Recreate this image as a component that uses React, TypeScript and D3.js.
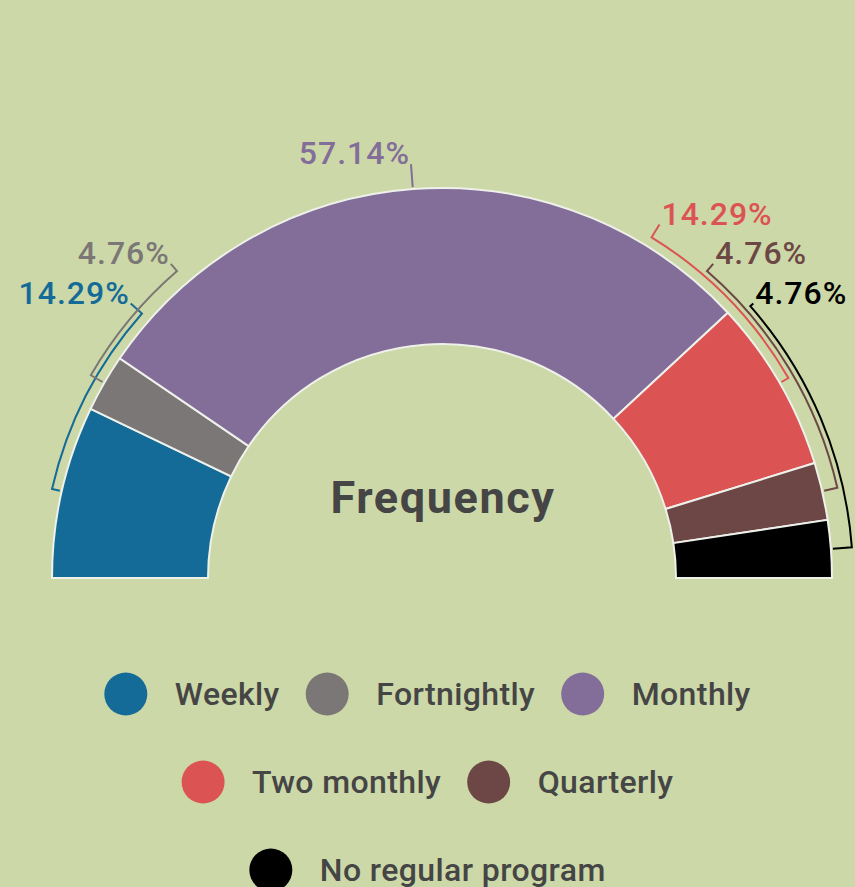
import React, { useEffect, useRef } from "react";
import * as d3 from "d3";

const categories = ["Weekly", "Fortnightly", "Monthly", "Two monthly", "Quarterly", "No regular program"];
const counts = [3, 1, 12, 3, 1, 1];
const sliceColors = ["#156b98", "#7b7776", "#836d99", "#dc5354", "#6c4746", "#000000"];
const labelColors = ["#156b98", "#7b7776", "#836d99", "#dc5354", "#6c4746", "#000000"];
// label positions (degrees, clockwise from top) as laid out in the reference; null = slice middle
const labelAngles: (number | null)[] = [-48.6, -40.8, null, 31.6, 40.8, 48.6];
const legendRows = [[0, 1, 2], [3, 4], [5]];
const title = "Frequency";

const W = 855;
const H = 887;
const BG = "#ccd8a7";

export default function App() {
  const ref = useRef<SVGSVGElement | null>(null);

  useEffect(() => {
    const svg = d3.select(ref.current);
    svg.selectAll("*").remove();
    svg.append("rect").attr("width", W).attr("height", H).attr("fill", BG);

    const cx = 442, cy = 578, r0 = 234, r1 = 390;
    const total = d3.sum(counts);
    const pie = d3.pie<number>().sort(null).startAngle(-Math.PI / 2).endAngle(Math.PI / 2).value((d) => d);
    const arcs = pie(counts);
    const arc = d3.arc<d3.PieArcDatum<number>>().innerRadius(r0).outerRadius(r1);

    const g = svg.append("g").attr("transform", `translate(${cx},${cy})`);
    g.selectAll("path.slice")
      .data(arcs)
      .join("path")
      .attr("class", "slice")
      .attr("d", arc as any)
      .attr("fill", (_, i) => sliceColors[i])
      .attr("stroke", "#eef0ea")
      .attr("stroke-width", 2);

    const polar = (r: number, a: number) => [r * Math.sin(a), -r * Math.cos(a)];
    const sideIdx = { left: 0, right: 0 };
    arcs.forEach((d, i) => {
      const mid = (d.startAngle + d.endAngle) / 2;
      const lab = labelAngles[i] == null ? mid : (labelAngles[i] as number) * Math.PI / 180;
      const left = mid < 0;
      const level = left ? sideIdx.left++ : sideIdx.right++;
      const R = 400 + level * 5.5;
      const p = d3.path();
      const a = polar(392, mid);
      const b = polar(R, mid);
      const e = polar(415, lab);
      p.moveTo(a[0], a[1]);
      p.lineTo(b[0], b[1]);
      if (Math.abs(lab - mid) > 1e-6) p.arc(0, 0, R, mid - Math.PI / 2, lab - Math.PI / 2, lab < mid);
      p.lineTo(e[0], e[1]);
      g.append("path")
        .attr("d", p.toString())
        .attr("fill", "none")
        .attr("stroke", labelColors[i])
        .attr("stroke-width", 2);
      const pct = ((counts[i] / total) * 100).toFixed(2) + "%";
      g.append("text")
        .attr("x", e[0] + (left ? -1 : 2))
        .attr("y", e[1])
        .attr("text-anchor", left ? "end" : "start")
        .attr("font-family", "Roboto")
        .attr("font-size", 32)
        .attr("font-weight", 500)
        .attr("letter-spacing", 1)
        .attr("fill", labelColors[i])
        .text(pct);
    });

    g.append("text")
      .attr("x", 1)
      .attr("y", -65)
      .attr("text-anchor", "middle")
      .attr("font-family", "Roboto")
      .attr("font-size", 45)
      .attr("font-weight", 700)
      .attr("letter-spacing", 1.6)
      .attr("fill", "#454545")
      .text(title);

    // legend
    const lg = svg.append("g");
    const rowY0 = 694, rowGap = 88, rad = 21.5, textOff = 49, itemGap = 26;
    legendRows.forEach((row, ri) => {
      const y = rowY0 + ri * rowGap;
      const rg = lg.append("g");
      let x = 0;
      row.forEach((ci) => {
        rg.append("circle").attr("cx", x + rad).attr("cy", y).attr("r", rad).attr("fill", sliceColors[ci]);
        const t = rg.append("text")
          .attr("x", x + rad + textOff)
          .attr("y", y + 11)
          .attr("font-family", "Roboto")
          .attr("font-size", 32)
          .attr("font-weight", 500)
          .attr("letter-spacing", 0.4)
          .attr("fill", "#454545")
          .text(categories[ci]);
        const tw = (t.node() as SVGTextElement).getComputedTextLength();
        x += rad + textOff + tw + itemGap;
      });
      const rowW = x - itemGap;
      rg.attr("transform", `translate(${W / 2 - rowW / 2},0)`);
    });
  }, []);

  return (
    <svg
      ref={ref}
      width={W}
      height={H}
      style={{ position: "absolute", left: 0, top: 0, display: "block" }}
    />
  );
}
